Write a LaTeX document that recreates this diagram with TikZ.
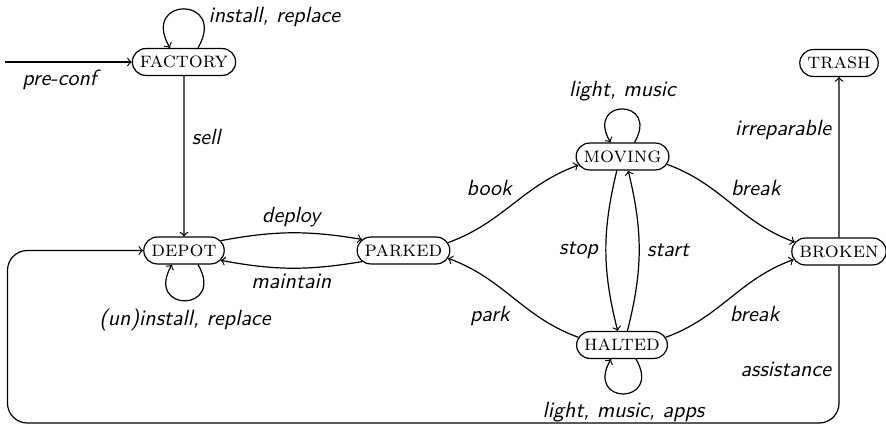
\documentclass[tikz,border=0pt]{standalone}
\usetikzlibrary{shapes.misc,calc}
\begin{document}
\begin{tikzpicture}[x=0.4545pt,y=-0.4545pt,line width=0.55pt,
  state/.style={rounded rectangle,draw,font=\scshape,inner xsep=2.8pt,inner ysep=1pt,minimum height=12.2pt},
  lbl/.style={font=\sffamily\itshape},
  trans/.style={draw,->},
  selfloop/.style={looseness=5.5},
]
\useasboundingbox (0,0) rectangle (886,425);

% states
\node[state] (factory) at (184,62)    {factory};
\node[state] (depot)   at (184,250.5) {depot};
\node[state] (parked)  at (403.5,250.5) {parked};
\node[state] (moving)  at (622.5,156.5) {moving};
\node[state] (halted)  at (622,345)   {halted};
\node[state] (broken)  at (839,251.5) {broken};
\node[state] (trash)   at (839,63)    {trash};

% initial transition
\coordinate (init) at (5,62);
\draw[trans] (init) -- (factory) node[lbl,below,pos=0.43] {pre-conf};

% self loops
\draw[trans] ($(factory.north)+(14,0)$) to[out=60,in=120,selfloop]
  node[lbl,right,pos=0.28] {install, replace} ($(factory.north)+(-14,0)$);
\draw[trans] ($(depot.south)+(14,0)$) to[out=-60,in=-120,selfloop]
  node[lbl,below] {(un)install, replace} ($(depot.south)+(-12,0)$);
\draw[trans] ($(moving.north)+(12,0)$) to[out=60,in=120,selfloop]
  node[lbl,above] {light, music} ($(moving.north)+(-12,0)$);
\draw[trans] ($(halted.south)+(14,0)$) to[out=-60,in=-120,selfloop]
  node[lbl,below] {light, music, apps} ($(halted.south)+(-11,0)$);

% transitions between states
\draw[trans] (factory) -- node[lbl,right,pos=0.38] {sell} (depot);
\draw[trans] (depot.15) to[bend left=10] node[lbl,above,yshift=-1pt] {deploy} (parked.165);
\draw[trans] (parked.-165) to[bend left=10] node[lbl,below,yshift=1pt] {maintain} (depot.-15);
\draw[trans] (parked.10) to[out=20,in=200] node[lbl,above left,xshift=3pt] {book} (moving.191);
\draw[trans] (halted.170) to[out=160,in=-20] node[lbl,below left,xshift=2pt] {park} (parked.-10);
\draw[trans] (moving.-10) to[out=-20,in=160] node[lbl,above right,xshift=-3.5pt] {break} (broken.168);
\draw[trans] (halted.10) to[out=20,in=200] node[lbl,below right,xshift=-3.5pt] {break} (broken.190);
\draw[trans] (moving.-112) to[bend right=14] node[lbl,left] {stop} (halted.107);
\draw[trans] (halted.69) to[bend right=14] node[lbl,right] {start} (moving.-68);
\draw[trans] (broken) -- node[lbl,left,pos=0.67] {irreparable} (trash);

% assistance: back to the depot along the outer frame
\coordinate (corner) at (7.5,423);
\draw[trans,rounded corners=9pt] (broken.south) |- (corner)
  node[lbl,left,pos=0.33] {assistance} |- (depot.west);
\end{tikzpicture}
\end{document}
